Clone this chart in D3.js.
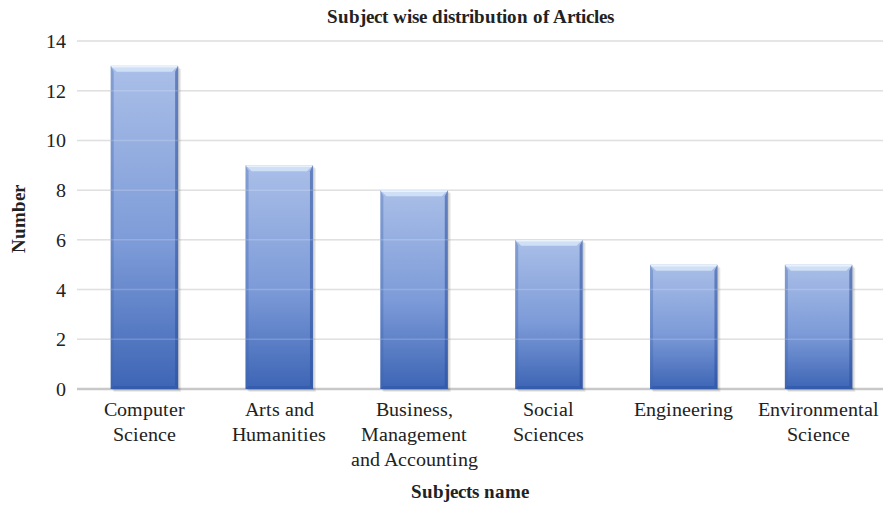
<!DOCTYPE html>
<html>
<head>
<meta charset="utf-8">
<script src="https://cdn.jsdelivr.net/npm/d3@7"></script>
<style>
  @font-face {
    font-family: "ChartSerif";
    font-weight: 400;
    src: local("Liberation Serif"), local("LiberationSerif"), local("Times New Roman"), local("Tinos");
  }
  @font-face {
    font-family: "ChartSerif";
    font-weight: 700;
    src: local("Liberation Serif Bold"), local("LiberationSerif-Bold"), local("Times New Roman Bold"), local("Tinos Bold");
  }
</style>
</head>
<body style="margin:0">
<svg id="chart" width="883" height="508"></svg>
<script>
// Number of articles per subject area
const subjects = [
  ["Computer", "Science"],
  ["Arts and", "Humanities"],
  ["Business,", "Management", "and Accounting"],
  ["Social", "Sciences"],
  ["Engineering"],
  ["Environmental", "Science"]
];
const counts = [13, 9, 8, 6, 5, 5];
const yTicks = [0, 2, 4, 6, 8, 10, 12, 14];

const FONT = "ChartSerif, 'Liberation Serif', 'Times New Roman', Tinos";
const svg = d3.select("#chart");
const W = 883;
const plotLeft = 77, plotRight = 886, plotTop = 41, plotBottom = 389;

const x = d3.scaleBand()
  .domain(d3.range(subjects.length))
  .range([plotLeft, plotRight])
  .paddingInner(0.5)
  .paddingOuter(0.25);

const y = d3.scaleLinear().domain([0, 14]).range([plotBottom, plotTop]);

const defs = svg.append("defs");
const body = defs.append("linearGradient").attr("id", "barFill")
  .attr("x1", 0).attr("y1", 0).attr("x2", 0).attr("y2", 1);
body.append("stop").attr("offset", "0%").attr("stop-color", "#aabfe8");
body.append("stop").attr("offset", "55%").attr("stop-color", "#7d9bd8");
body.append("stop").attr("offset", "100%").attr("stop-color", "#3d65b5");

function label(sel) {
  return sel.style("font-family", FONT).attr("fill", "#222");
}

// Horizontal gridlines
svg.append("g").selectAll("line").data(yTicks).join("line")
  .attr("x1", plotLeft).attr("x2", W)
  .attr("y1", d => y(d)).attr("y2", d => y(d))
  .attr("stroke", d => d === 0 ? "#c8c8c8" : "#d9d9d9")
  .attr("stroke-width", d => d === 0 ? 2.5 : 1.5);

// Bevelled bars with a soft right-hand shadow
const bars = svg.append("g").selectAll("g").data(counts).join("g");
bars.each(function(v, i) {
  const g = d3.select(this);
  const x0 = x(i), w = x.bandwidth(), x1 = x0 + w;
  const y0 = y(v), y1 = y(0);
  const b = 6, s = 3;
  [3, 2, 1].forEach(o => {
    g.append("rect")
      .attr("x", x0 + o).attr("y", y0 + o).attr("width", w).attr("height", y1 - y0)
      .attr("fill", "#000").attr("opacity", 0.07);
  });
  g.append("rect")
    .attr("x", x0).attr("y", y0).attr("width", w).attr("height", y1 - y0)
    .attr("fill", "url(#barFill)");
  // top bevel
  g.append("path")
    .attr("d", `M${x0},${y0}L${x1},${y0}L${x1 - b},${y0 + b}L${x0 + b},${y0 + b}Z`)
    .attr("fill", "#cfdff5");
  g.append("line")
    .attr("x1", x0 + 1).attr("x2", x1 - 1).attr("y1", y0 + 1).attr("y2", y0 + 1)
    .attr("stroke", "#e8f1fc").attr("stroke-width", 1.5);
  // left bevel
  g.append("path")
    .attr("d", `M${x0},${y0}L${x0 + s},${y0 + b}L${x0 + s},${y1 - s}L${x0},${y1}Z`)
    .attr("fill", "#3f63ad").attr("opacity", 0.35);
  // right bevel
  g.append("path")
    .attr("d", `M${x1},${y0}L${x1 - s},${y0 + b}L${x1 - s},${y1 - s}L${x1},${y1}Z`)
    .attr("fill", "#2a4f9e").attr("opacity", 0.55);
  // bottom bevel
  g.append("path")
    .attr("d", `M${x0},${y1}L${x0 + s},${y1 - s}L${x1 - s},${y1 - s}L${x1},${y1}Z`)
    .attr("fill", "#2f57a8").attr("opacity", 0.6);
});

// Gridlines faintly visible over bars
svg.append("g").selectAll("line").data(yTicks.filter(d => d > 0)).join("line")
  .attr("x1", plotLeft).attr("x2", W)
  .attr("y1", d => y(d)).attr("y2", d => y(d))
  .attr("stroke", "#ffffff").attr("stroke-opacity", 0.18).attr("stroke-width", 1.5);

// Y tick labels
svg.append("g").selectAll("text").data(yTicks).join("text")
  .attr("x", 66).attr("y", d => y(d) + 7)
  .attr("text-anchor", "end")
  .attr("font-size", 20)
  .call(label)
  .text(d => d);

// Category labels
subjects.forEach((lines, i) => {
  lines.forEach((ln, k) => {
    svg.append("text")
      .attr("x", x(i) + x.bandwidth() / 2)
      .attr("y", 416 + k * 25)
      .attr("text-anchor", "middle")
      .attr("font-size", 20)
      .call(label)
      .text(ln);
  });
});

// Titles
svg.append("text")
  .attr("x", 470).attr("y", 23)
  .attr("text-anchor", "middle")
  .attr("font-size", 19).attr("font-weight", "bold")
  .call(label)
  .text("Subject wise distribution of Articles");

svg.append("text")
  .attr("x", 470).attr("y", 498)
  .attr("text-anchor", "middle")
  .attr("font-size", 19).attr("font-weight", "bold")
  .call(label)
  .text("Subjects name");

svg.append("text")
  .attr("transform", "translate(25,219) rotate(-90)")
  .attr("text-anchor", "middle")
  .attr("font-size", 19).attr("font-weight", "bold")
  .call(label)
  .text("Number");
</script>
</body>
</html>
